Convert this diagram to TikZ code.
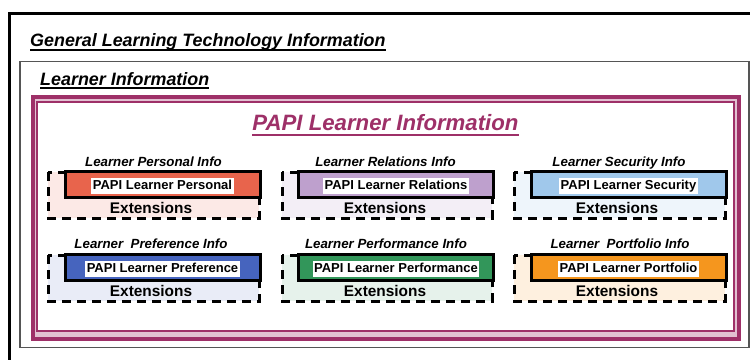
\documentclass[tikz,border=0pt]{standalone}
\usepackage{fontspec}
\setmainfont{Liberation Sans}
\definecolor{papimagenta}{RGB}{158,48,104}
\definecolor{framegray}{RGB}{85,85,85}
\definecolor{personalred}{RGB}{232,100,76}
\definecolor{relationslilac}{RGB}{190,160,205}
\definecolor{securityblue}{RGB}{160,200,235}
\definecolor{preferenceblue}{RGB}{70,100,190}
\definecolor{performancegreen}{RGB}{50,150,90}
\definecolor{portfolioorange}{RGB}{245,150,30}

\begin{document}
\begin{tikzpicture}[x=1pt,y=-1pt,
    heading/.style={anchor=base west,inner sep=0pt,font=\fontsize{17.9pt}{20pt}\selectfont\bfseries\itshape},
    extbox/.style={draw,line width=3pt,dash pattern=on 9pt off 6pt},
    papibox/.style={draw,line width=3pt,minimum width=195pt,minimum height=26pt},
    boxtitle/.style={inner sep=0pt,yshift=-1.6pt,text height=9.6pt,text depth=2.8pt,font=\fontsize{13.3pt}{15pt}\selectfont\bfseries\itshape},
    papilabel/.style={fill=white,inner sep=1.5pt,yshift=-1.4pt,text height=9.4pt,text depth=2.8pt,font=\fontsize{13pt}{15pt}\selectfont\bfseries},
    extlabel/.style={inner sep=0pt,font=\fontsize{15.4pt}{17pt}\selectfont\bfseries}]
    \useasboundingbox (0,0) rectangle (750,359);
    \clip (0,0) rectangle (750,359);
    % frames
    \draw[line width=3.2pt] (9.5,400) -- (9.5,13.7) -- (800,13.7);
    \node[heading] (general) at (30,46.7) {General Learning Technology Information};
    \draw[line width=2pt] ([yshift=-3.3pt]general.base west) -- ([yshift=-3.3pt]general.base east);
    \draw[framegray,line width=1.3pt] (20,61.7) rectangle (749,347.5);
    \node[heading] (learner) at (40,85) {Learner Information};
    \draw[line width=2pt] ([yshift=-3.3pt]learner.base west) -- ([yshift=-3.3pt]learner.base east);
    \draw[papimagenta,line width=4pt,fill=papimagenta!30] (32.7,97) rectangle (738.5,338.5);
    \draw[papimagenta,line width=2.5pt,fill=white] (37,101.8) rectangle (734,331);
    \node[anchor=base,inner sep=0pt,text=papimagenta,font=\fontsize{22.2pt}{25pt}\selectfont\bfseries\itshape] (papi) at (385.5,130.5) {PAPI Learner Information};
    \draw[papimagenta,line width=2.5pt] ([yshift=-4.5pt]papi.base west) -- ([yshift=-4.5pt]papi.base east);
    % first row
    \draw[extbox,fill=personalred!14] (48,172) rectangle (259,218);
    \node[papibox,fill=personalred] (personal) at (162.5,184.5) {};
    \node[papilabel] (personal label) at (personal) {PAPI Learner Personal};
    \node[boxtitle] (personal title) at (153.5,161) {Learner Personal Info};
    \node[extlabel] (personal ext) at (151,208) {Extensions};
    \draw[extbox,fill=relationslilac!18] (282,172) rectangle (492,218);
    \node[papibox,fill=relationslilac] (relations) at (396,184.5) {};
    \node[papilabel] (relations label) at (relations) {PAPI Learner Relations};
    \node[boxtitle] (relations title) at (385.5,161) {Learner Relations Info};
    \node[extlabel] (relations ext) at (385,208) {Extensions};
    \draw[extbox,fill=securityblue!18] (514,172) rectangle (725,218);
    \node[papibox,fill=securityblue] (security) at (628.5,184.5) {};
    \node[papilabel] (security label) at (security) {PAPI Learner Security};
    \node[boxtitle] (security title) at (619,161) {Learner Security Info};
    \node[extlabel] (security ext) at (617,208) {Extensions};
    % second row
    \draw[extbox,fill=preferenceblue!12] (48,255) rectangle (259,301);
    \node[papibox,fill=preferenceblue] (preference) at (162.5,267.5) {};
    \node[papilabel] (preference label) at (preference) {PAPI Learner Preference};
    \node[boxtitle] (preference title) at (151,243) {Learner~~Preference Info};
    \node[extlabel] (preference ext) at (151,291) {Extensions};
    \draw[extbox,fill=performancegreen!12] (282,255) rectangle (492,301);
    \node[papibox,fill=performancegreen] (performance) at (396,267.5) {};
    \node[papilabel] (performance label) at (performance) {PAPI Learner Performance};
    \node[boxtitle] (performance title) at (386,243) {Learner Performance Info};
    \node[extlabel] (performance ext) at (385,291) {Extensions};
    \draw[extbox,fill=portfolioorange!14] (514,255) rectangle (725,301);
    \node[papibox,fill=portfolioorange] (portfolio) at (628.5,267.5) {};
    \node[papilabel] (portfolio label) at (portfolio) {PAPI Learner Portfolio};
    \node[boxtitle] (portfolio title) at (620,243) {Learner~~Portfolio Info};
    \node[extlabel] (portfolio ext) at (617,291) {Extensions};
\end{tikzpicture}
\end{document}
